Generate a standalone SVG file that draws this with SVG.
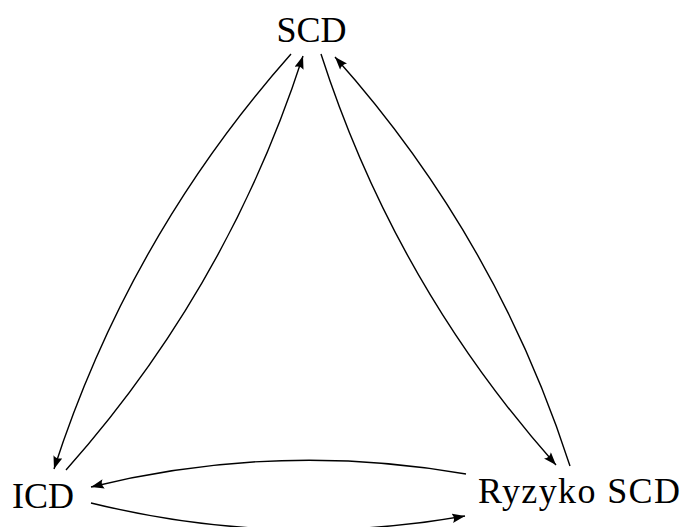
<svg xmlns="http://www.w3.org/2000/svg" width="683" height="527" viewBox="0 0 683 527">
<style>
.lbl{font-family:"Liberation Serif","DejaVu Serif",serif;font-size:36px;fill:#000}
.e{fill:none;stroke:#000;stroke-width:1.4}
</style>
<defs>
<marker id="ah" markerUnits="userSpaceOnUse" markerWidth="14" markerHeight="10" refX="13" refY="4.75" orient="auto" viewBox="0 0 14 10">
<path d="M0,0 Q3.5,4.75 0,9.5 L13,4.75 Z" fill="#000"/>
</marker>
</defs>
<rect width="683" height="527" fill="#fff"/>
<g id="connectors">
<path class="e" d="M291,54 Q129,237 54,469" marker-end="url(#ah)"/>
<path class="e" d="M66,470 Q228,288 303,56" marker-end="url(#ah)"/>
<path class="e" d="M321,54 Q395,284 556,465" marker-end="url(#ah)"/>
<path class="e" d="M570,466 Q496,237 335,57" marker-end="url(#ah)"/>
<path class="e" d="M466,474 Q278,441 91,487" marker-end="url(#ah)"/>
<path class="e" d="M91,503 Q278,549 465,516" marker-end="url(#ah)"/>
</g>
<g id="node-scd"><text class="lbl" x="311.5" y="42" text-anchor="middle">SCD</text></g>
<g id="node-icd"><text class="lbl" x="12" y="508">ICD</text></g>
<g id="node-ryzyko"><text class="lbl" x="478" y="503" textLength="202" lengthAdjust="spacing">Ryzyko SCD</text></g>
</svg>
